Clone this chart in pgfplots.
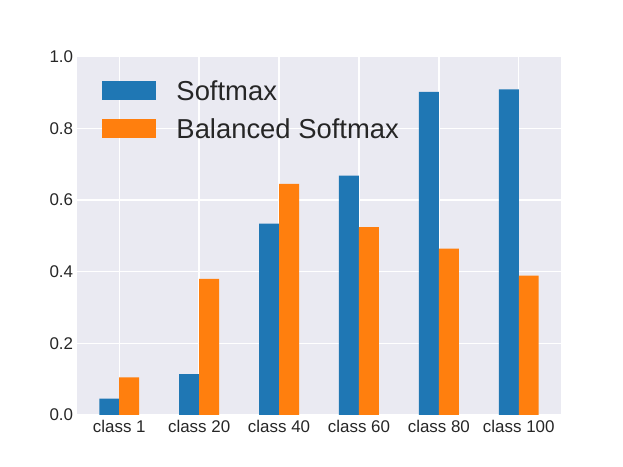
\documentclass[border=0pt]{standalone}
\usepackage{pgfplots}
\pgfplotsset{compat=1.18}
\usepackage{fontspec}
\setmainfont{Liberation Sans}
\definecolor{sbbg}{HTML}{EAEAF2}
\definecolor{cblue}{HTML}{1F77B4}
\definecolor{corange}{HTML}{FF7F0E}
\definecolor{txt}{HTML}{262626}
\begin{document}
\begin{tikzpicture}
\path[use as bounding box] (0,0) rectangle (623bp,467bp);
\begin{axis}[
  at={(77.3bp,52bp)}, anchor=south west,
  scale only axis, width=483.4bp, height=358.3bp,
  xmin=-0.525, xmax=5.525, ymin=0, ymax=1,
  axis background/.style={fill=sbbg},
  axis line style={draw=none},
  major tick length=0pt,
  grid=major, major grid style={white, line width=1.3bp},
  xtick={0,1,2,3,4,5},
  xticklabels={class 1,class 20,class 40,class 60,class 80,class 100},
  ytick={0,0.2,0.4,0.6,0.8,1.0},
  yticklabel={\pgfmathprintnumber[fixed,fixed zerofill,precision=1]{\tick}},
  /pgf/number format/assume math mode=true,
  ticklabel style={font=\fontsize{17}{20}\selectfont, text=txt, inner sep=0pt},
  xticklabel style={yshift=-5bp},
  yticklabel style={xshift=-4bp},
  ybar, bar width=0.25,
  legend style={at={(0.0517,0.934)}, anchor=north west, draw=none, fill=none,
    inner sep=0pt, row sep=18.7bp, column sep=20bp,
    font=\fontsize{27.5}{32}\selectfont, text=txt,
    nodes={inner sep=0pt, text height=19.7bp, text depth=0pt}},
  legend cell align=left,
  legend image code/.code={\fill[#1] (0bp,-9.65bp) rectangle (54bp,9.65bp);},
]
\addplot[fill=cblue, draw=none, bar shift=-0.125] coordinates {
(0,0.046) (1,0.114) (2,0.534) (3,0.668) (4,0.902) (5,0.909)};
\addlegendentry{Softmax}
\addplot[fill=corange, draw=none, bar shift=0.125] coordinates {
(0,0.105) (1,0.380) (2,0.645) (3,0.524) (4,0.464) (5,0.389)};
\addlegendentry{Balanced Softmax}
\end{axis}
\end{tikzpicture}
\end{document}
